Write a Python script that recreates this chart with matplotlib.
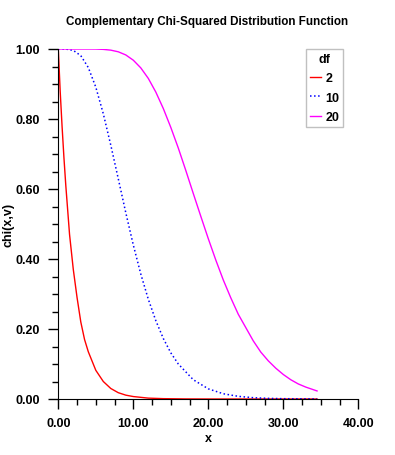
import matplotlib

matplotlib.use("Agg")
import matplotlib.pyplot as plt
from matplotlib.ticker import MultipleLocator, FormatStrFormatter

plt.rcParams["font.family"] = ["Liberation Sans", "DejaVu Sans"]
plt.rcParams["font.weight"] = "bold"

# values
x_df2 = [0, 0.25, 0.5, 0.75, 1, 1.5, 2, 2.5, 3, 3.5, 4, 5, 6, 7, 8, 9, 10, 12, 14, 17, 20, 25, 30, 34.5]
y_df2 = [1.0, 0.88, 0.78, 0.69, 0.61, 0.47, 0.37, 0.29, 0.22, 0.17, 0.135, 0.082, 0.05, 0.03,
         0.018, 0.011, 0.007, 0.0025, 0.001, 0.0002, 0, 0, 0, 0]

x_df10 = [0, 1, 2, 3, 4, 5, 6, 7, 8, 9, 10, 11, 12, 13, 14, 15, 16, 18, 20, 22, 24, 26, 28, 30, 34.5]
y_df10 = [1.0, 0.9998, 0.996, 0.981, 0.947, 0.891, 0.815, 0.725, 0.629, 0.532, 0.44, 0.357,
          0.285, 0.224, 0.173, 0.132, 0.1, 0.055, 0.029, 0.015, 0.0076, 0.0037, 0.0018, 0.0009, 0.0002]

x_df20 = [0, 3, 4, 5, 6, 7, 8, 9, 10, 11, 12, 13, 14, 15, 16, 17, 18, 19, 20, 21, 22, 23, 24,
          26, 27, 28, 29, 30, 31, 32, 33, 34.5]
y_df20 = [1.0, 1.0, 1.0, 0.9999, 0.9989, 0.9967, 0.992, 0.983, 0.968, 0.946, 0.916, 0.877,
          0.83, 0.776, 0.717, 0.653, 0.587, 0.522, 0.458, 0.397, 0.34, 0.289, 0.242,
          0.166, 0.134, 0.109, 0.088, 0.07, 0.055, 0.043, 0.034, 0.023]

fig = plt.figure(figsize=(3.95, 4.56), dpi=100)
ax = fig.add_axes([58.3 / 395, 56 / 456, 300 / 395, 350 / 456])

ax.plot(x_df2, y_df2, "-", color="#ff0000", lw=1, label="2")
ax.plot(x_df10, y_df10, ":", color="#0000ff", lw=1.1, label="10")
ax.plot(x_df20, y_df20, "-", color="#ff00ff", lw=1, label="20")

ax.set_xlim(0, 40)
ax.set_ylim(0, 1)
ax.spines["top"].set_visible(False)
ax.spines["right"].set_visible(False)
ax.xaxis.set_major_locator(MultipleLocator(10))
ax.xaxis.set_minor_locator(MultipleLocator(2.5))
ax.yaxis.set_major_locator(MultipleLocator(0.2))
ax.yaxis.set_minor_locator(MultipleLocator(0.05))
ax.xaxis.set_major_formatter(FormatStrFormatter("%.2f"))
ax.yaxis.set_major_formatter(FormatStrFormatter("%.2f"))
ax.tick_params(which="major", length=7, width=1, labelsize=9, pad=6)
ax.tick_params(which="minor", length=4, width=1)
for lab in ax.get_xticklabels() + ax.get_yticklabels():
    lab.set_fontweight("bold")

ax.set_xlabel("x", fontsize=9, fontweight="bold", labelpad=2)
ax.set_ylabel("chi(x,v)", fontsize=9, fontweight="bold")
ax.yaxis.set_label_coords(-0.147, 0.5)
fig.text(207 / 395, 1 - 22 / 456, "Complementary Chi-Squared Distribution Function",
         ha="center", va="center", fontsize=8.4, fontweight="bold")

leg = ax.legend(title="df", loc="upper left", bbox_to_anchor=(306 / 395, 1 - 50 / 456),
                bbox_transform=fig.transFigure, borderaxespad=0, fontsize=9, title_fontsize=9,
                handlelength=0.9, handletextpad=0.35, borderpad=0.3, labelspacing=0.6,
                fancybox=False, framealpha=1, edgecolor="#c0c0c0")
leg.get_title().set_fontweight("bold")
leg.get_frame().set_linewidth(1)

fig.savefig("out.png", dpi=100)
